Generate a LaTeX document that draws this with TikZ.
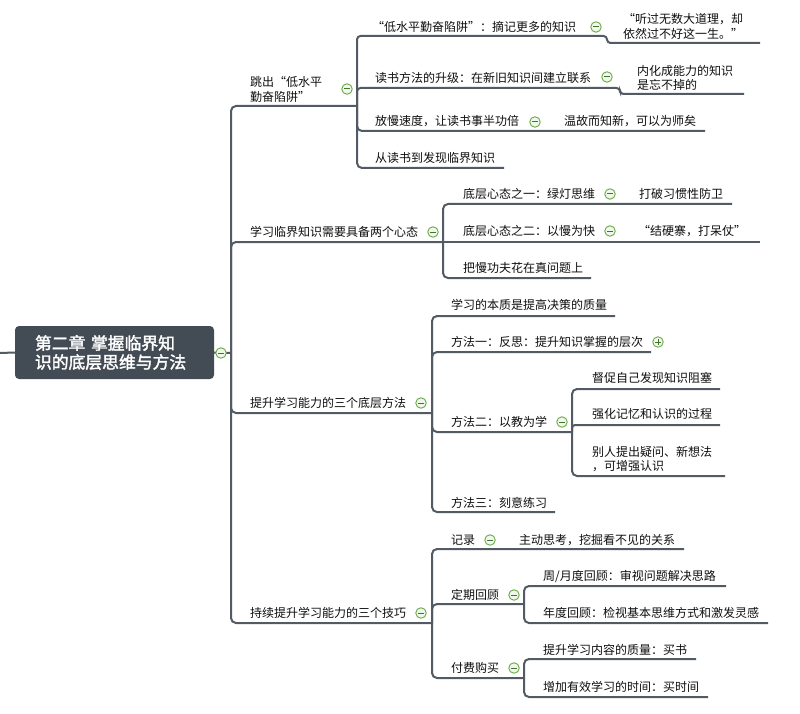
\documentclass[tikz,border=0pt]{standalone}
\usepackage{fontspec}
\setmainfont{Noto Sans CJK SC}
\newfontfamily\rootfont[FakeBold=2]{Noto Sans CJK SC}
\definecolor{lineC}{RGB}{82,90,99}
\definecolor{rootC}{RGB}{67,76,85}
\definecolor{iconG}{RGB}{104,170,70}
\definecolor{iconD}{RGB}{72,112,52}
\definecolor{iconF}{RGB}{240,248,235}
\definecolor{txtC}{RGB}{15,15,15}
\tikzset{
 conn/.style={draw=lineC, line width=2pt, rounded corners=5pt},
 lbl/.style={anchor=west, inner sep=0pt, text=txtC, font=\fontsize{12}{14.5}\selectfont, align=left},
 icon/.style={circle, draw=iconG, fill=iconF, line width=0.9pt, minimum size=10.5pt, inner sep=0pt},
 iconminus/.style={icon, path picture={\draw[iconD, line width=1pt] ([xshift=-2.6pt]path picture bounding box.center) -- ([xshift=2.6pt]path picture bounding box.center);}},
 iconplus/.style={icon, path picture={\draw[iconD, line width=1pt] ([xshift=-2.6pt]path picture bounding box.center) -- ([xshift=2.6pt]path picture bounding box.center) ([yshift=-2.6pt]path picture bounding box.center) -- ([yshift=2.6pt]path picture bounding box.center);}},
 rootbox/.style={fill=rootC, rounded corners=4pt, minimum width=199pt, minimum height=53pt, text width=159pt, align=left, text=white, font=\rootfont\fontsize{16.8}{19}\selectfont, inner sep=0pt}
}
\begin{document}
\begin{tikzpicture}[x=1pt,y=-1pt]
\fill[white] (0,0) rectangle (800,714);
\useasboundingbox (0,0) rectangle (800,714);

% root
\node[rootbox] (root) at (114.5,352.5) {第二章\ 掌握临界知\\识的底层思维与方法};
\coordinate (rootL) at (0,353);
\coordinate (J) at (231,353);
\draw[conn] (rootL) -- (root.west);
\draw[conn] (root.east) -- (J);

% level-1 junctions
\coordinate (T1) at (357,106);
\coordinate (T2) at (443,242);
\coordinate (T3) at (432,413);
\coordinate (T4) at (432,623);
\draw[conn] (J) -- (231,106) -- (T1);
\draw[conn] (J) -- (231,242) -- (T2);
\draw[conn] (J) -- (231,413) -- (T3);
\draw[conn] (J) -- (231,623) -- (T4);

% topic 1 children
\coordinate (e1a) at (760,43);
\coordinate (e1b) at (744,94);
\coordinate (e1c) at (705,131);
\coordinate (e1d) at (504,168);
\draw[conn, rounded corners=3.5pt] (T1) -- (357,36) -- (607,36) -- (607,43) -- (e1a);
\draw[conn, rounded corners=3.5pt] (T1) -- (357,88) -- (620,88) -- (620,94) -- (e1b);
\draw[conn] (T1) -- (357,131) -- (e1c);
\draw[conn] (T1) -- (357,168) -- (e1d);

% topic 2 children
\coordinate (e2a) at (732,204);
\coordinate (e2b) at (760,242);
\coordinate (e2c) at (591,278);
\draw[conn] (T2) -- (443,204) -- (e2a);
\draw[conn] (T2) -- (e2b);
\draw[conn] (T2) -- (443,278) -- (e2c);

% topic 3 children
\coordinate (e3a) at (615,316);
\coordinate (e3b) at (651,352);
\coordinate (M2) at (572,432);
\coordinate (e3d) at (555,512);
\draw[conn] (T3) -- (432,316) -- (e3a);
\draw[conn] (T3) -- (432,352) -- (e3b);
\draw[conn] (T3) -- (432,432) -- (M2);
\draw[conn] (T3) -- (432,512) -- (e3d);
\coordinate (e3c1) at (720,389);
\coordinate (e3c2) at (720,425);
\coordinate (e3c3) at (725,476);
\draw[conn] (M2) -- (572,389) -- (e3c1);
\draw[conn, rounded corners=3pt] (M2) -- (572,425) -- (e3c2);
\draw[conn] (M2) -- (572,476) -- (e3c3);

% topic 4 children
\coordinate (e4a) at (684,549);
\coordinate (R4) at (524,604);
\coordinate (P4) at (524,678);
\draw[conn] (T4) -- (432,549) -- (e4a);
\draw[conn] (T4) -- (432,604) -- (R4);
\draw[conn] (T4) -- (432,678) -- (P4);
\coordinate (e4b1) at (726,586);
\coordinate (e4b2) at (768,623);
\coordinate (e4c1) at (696,659);
\coordinate (e4c2) at (708,697);
\draw[conn] (R4) -- (524,586) -- (e4b1);
\draw[conn] (R4) -- (524,623) -- (e4b2);
\draw[conn] (P4) -- (524,659) -- (e4c1);
\draw[conn] (P4) -- (524,697) -- (e4c2);

% texts
\node[lbl] (t1) at (250,89.5) {跳出“低水平\\勤奋陷阱”};
\node[lbl] (n1a) at (372,27) {“低水平勤奋陷阱”：摘记更多的知识};
\node[lbl] (n1a1) at (623,26.5) {“听过无数大道理，却\\依然过不好这一生。”};
\node[lbl] (n1b) at (375,78) {读书方法的升级：在新旧知识间建立联系};
\node[lbl] (n1b1) at (637,78) {内化成能力的知识\\是忘不掉的};
\node[lbl] (n1c) at (375,121) {放慢速度，让读书事半功倍};
\node[lbl] (n1c1) at (564,121) {温故而知新，可以为师矣};
\node[lbl] (n1d) at (375,158) {从读书到发现临界知识};

\node[lbl] (t2) at (250,232) {学习临界知识需要具备两个心态};
\node[lbl] (n2a) at (463,194) {底层心态之一：绿灯思维};
\node[lbl] (n2a1) at (639,194) {打破习惯性防卫};
\node[lbl] (n2b) at (463,231) {底层心态之二：以慢为快};
\node[lbl] (n2b1) at (638,231) {“结硬寨，打呆仗”};
\node[lbl] (n2c) at (463,268) {把慢功夫花在真问题上};

\node[lbl] (t3) at (250,403) {提升学习能力的三个底层方法};
\node[lbl] (n3a) at (451,305) {学习的本质是提高决策的质量};
\node[lbl] (n3b) at (451,342) {方法一：反思：提升知识掌握的层次};
\node[lbl] (n3c) at (451,422) {方法二：以教为学};
\node[lbl] (n3c1) at (592,378) {督促自己发现知识阻塞};
\node[lbl] (n3c2) at (592,414) {强化记忆和认识的过程};
\node[lbl] (n3c3) at (592,459) {别人提出疑问、新想法\\，可增强认识};
\node[lbl] (n3d) at (451,503) {方法三：刻意练习};

\node[lbl] (t4) at (250,613) {持续提升学习能力的三个技巧};
\node[lbl] (n4a) at (451,540) {记录};
\node[lbl] (n4a1) at (519,540) {主动思考，挖掘看不见的关系};
\node[lbl] (n4b) at (451,595) {定期回顾};
\node[lbl] (n4b1) at (543,576) {周/月度回顾：审视问题解决思路};
\node[lbl] (n4b2) at (543,613) {年度回顾：检视基本思维方式和激发灵感};
\node[lbl] (n4c) at (451,668) {付费购买};
\node[lbl] (n4c1) at (543,650) {提升学习内容的质量：买书};
\node[lbl] (n4c2) at (543,687) {增加有效学习的时间：买时间};

% icons
\node[iconminus] (i0) at (221,353) {};
\node[iconminus] (i1) at (347,89) {};
\node[iconminus] (i1a) at (596,27) {};
\node[iconminus] (i1b) at (607,77) {};
\node[iconminus] (i1c) at (535,122) {};
\node[iconminus] (i2) at (433,232) {};
\node[iconminus] (i2a) at (610,194) {};
\node[iconminus] (i2b) at (610,231) {};
\node[iconminus] (i3) at (421,403) {};
\node[iconplus] (i3b) at (658,342) {};
\node[iconminus] (i3c) at (562,422) {};
\node[iconminus] (i4) at (421,613) {};
\node[iconminus] (i4a) at (490,540) {};
\node[iconminus] (i4b) at (514,595) {};
\node[iconminus] (i4c) at (514,668) {};
\end{tikzpicture}
\end{document}
